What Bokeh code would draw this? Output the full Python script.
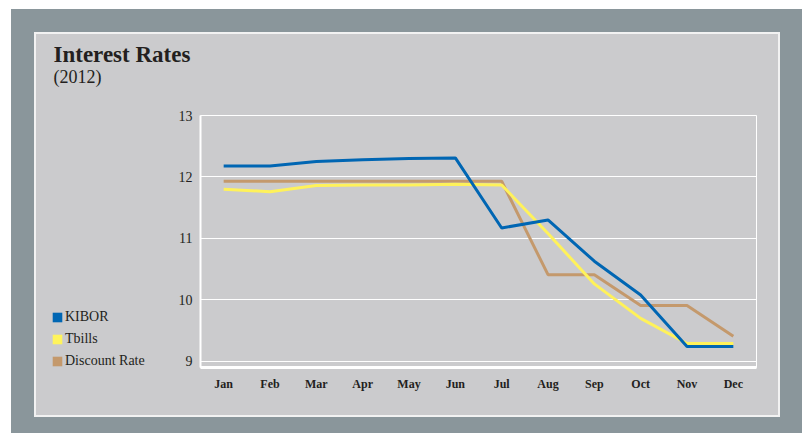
from bokeh.plotting import figure
from bokeh.models import (Legend, LegendItem, FactorRange, Range1d,
                          FixedTicker, ColumnDataSource)
from bokeh.core.properties import value
from bokeh.layouts import column, row
from bokeh.embed import file_html
from bokeh.resources import INLINE

# ---- data ----
months = ["Jan", "Feb", "Mar", "Apr", "May", "Jun",
          "Jul", "Aug", "Sep", "Oct", "Nov", "Dec"]
kibor = [12.18, 12.18, 12.25, 12.28, 12.30, 12.31, 11.17, 11.30, 10.63, 10.08, 9.24, 9.24]
tbills = [11.80, 11.76, 11.86, 11.87, 11.87, 11.88, 11.87, 11.08, 10.26, 9.70, 9.29, 9.29]
discount = [11.93, 11.93, 11.93, 11.93, 11.93, 11.93, 11.93, 10.41, 10.41, 9.91, 9.91, 9.41]
y_ticks = [9, 10, 11, 12, 13]
series_names = ["KIBOR", "Tbills", "Discount Rate"]
title_text = "Interest Rates"
subtitle_text = "(2012)"

BLUE = "#0066b3"
YELLOW = "#fff25a"
TAN = "#c4996c"
PANEL = "#cbcbcd"
OUTER = "#8a969b"
TEXT = "#231f20"
FONT = "Liberation Serif"
NAN = float("nan")


def blank(fig):
    fig.axis.visible = False
    fig.grid.visible = False
    fig.outline_line_color = None
    return fig


# ---- header (title + subtitle) ----
head = blank(figure(width=742, height=70, x_range=Range1d(0, 742), y_range=Range1d(70, 0),
                    output_backend="svg", toolbar_location=None,
                    min_border=0, background_fill_color=None, border_fill_color=PANEL))
head.text(x=[17], y=[20], text=[title_text], text_font=value(FONT), text_font_style="bold",
          text_font_size="23px", text_color=TEXT, text_baseline="alphabetic")
head.text(x=[17], y=[42], text=[subtitle_text], text_font=value(FONT),
          text_font_size="18px", text_color=TEXT, text_baseline="alphabetic")

# ---- legend panel ----
leg = blank(figure(width=134, height=311, x_range=Range1d(0, 134), y_range=Range1d(0, 311),
                   output_backend="svg", toolbar_location=None,
                   min_border=0, background_fill_color=None, border_fill_color=PANEL))
sw_src = ColumnDataSource(dict(l=[NAN], r=[NAN], t=[NAN], b=[NAN]))
sw = []
for c in [BLUE, "#fff45c", TAN]:
    sw.append(leg.quad(left="l", right="r", top="t", bottom="b", source=sw_src,
                       fill_color=c, line_color=None))
legend = Legend(items=[LegendItem(label=n, renderers=[r]) for n, r in zip(series_names, sw)],
                location=(15, -4), orientation="vertical",
                glyph_width=12, glyph_height=12, label_height=20, spacing=2,
                padding=0, margin=0, label_standoff=2,
                label_text_font=FONT, label_text_font_size="14px", label_text_color=TEXT,
                background_fill_alpha=0, border_line_color=None)
leg.add_layout(legend, "center")

# ---- main chart ----
src = ColumnDataSource(dict(m=months, kibor=kibor, tbills=tbills, discount=discount))

p = figure(width=608, height=311,
           x_range=FactorRange(*months), y_range=Range1d(8.9, 13),
           output_backend="svg", toolbar_location=None,
           min_border_left=30, min_border_right=22,
           min_border_top=11, min_border_bottom=48,
           background_fill_color=None, border_fill_color=PANEL,
           outline_line_color="white", outline_line_width=1)

p.line("m", "discount", source=src, line_color=TAN, line_width=3)
p.line("m", "tbills", source=src, line_color=YELLOW, line_width=3)
p.line("m", "kibor", source=src, line_color=BLUE, line_width=3)

p.xaxis.axis_line_color = "white"
p.xaxis.axis_line_width = 3
p.xaxis.major_tick_line_color = None
p.xaxis.minor_tick_line_color = None
p.xaxis.major_tick_out = 0
p.xaxis.major_tick_in = 0
p.xaxis.major_label_standoff = 9
p.xaxis.major_label_text_font = FONT
p.xaxis.major_label_text_font_style = "bold"
p.xaxis.major_label_text_font_size = "12px"
p.xaxis.major_label_text_color = TEXT

p.yaxis.ticker = FixedTicker(ticks=y_ticks)
p.yaxis.axis_line_color = "white"
p.yaxis.axis_line_width = 2
p.yaxis.major_tick_line_color = None
p.yaxis.minor_tick_line_color = None
p.yaxis.major_tick_out = 0
p.yaxis.major_tick_in = 0
p.yaxis.major_label_standoff = 8
p.yaxis.major_label_text_font = FONT
p.yaxis.major_label_text_font_size = "14px"
p.yaxis.major_label_text_color = TEXT

p.xgrid.visible = False
p.ygrid.ticker = FixedTicker(ticks=y_ticks)
p.ygrid.grid_line_color = "white"
p.ygrid.grid_line_width = 1

body = column(head, row(leg, p, spacing=0, styles={"background-color": PANEL}),
              spacing=0, styles={"background-color": PANEL})
inner = column(body, styles={"background-color": "#f2f2f2", "padding": "2px"})
outer = column(inner, styles={"background-color": OUTER, "padding": "23px 22px 16px 23px"},
               margin=(9, 0, 0, 11))

open("out.html", "w").write(file_html(outer, INLINE))
